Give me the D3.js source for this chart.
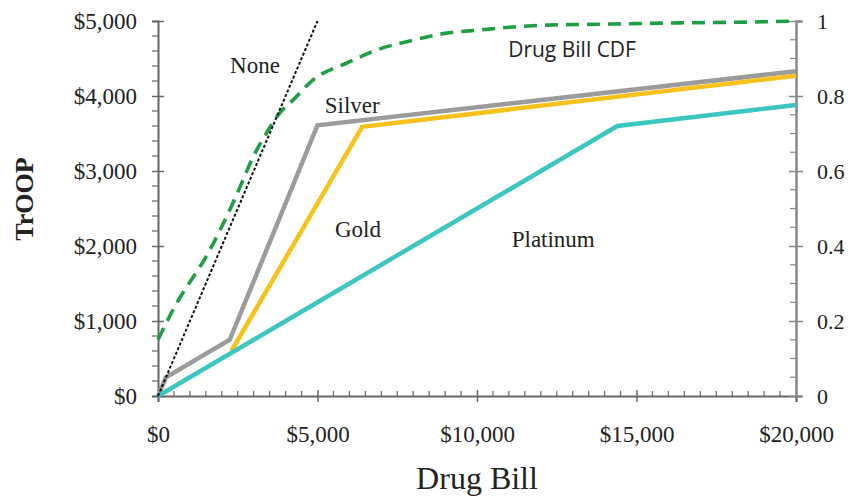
<!DOCTYPE html>
<html><head><meta charset="utf-8">
<script src="https://cdn.jsdelivr.net/npm/d3@7"></script>
<style>body{margin:0;background:#fff}svg{display:block}</style>
</head><body>
<svg id="chart" width="850" height="502"></svg>
<script>
// ---- data ----
const noneX = [0, 5000];
const noneY = [0, 5000];
const silverX = [0, 250, 2250, 5000, 20000];
const silverY = [0, 250, 750, 3610, 4330];
const goldX = [2300, 6400, 20000];
const goldY = [600, 3590, 4270];
const platinumX = [0, 14400, 20000];
const platinumY = [0, 3600, 3880];
const cdfX = [0, 470, 1630, 2350, 2570, 2980, 3420, 3820, 4230, 4860, 5920, 6870, 8000, 9060, 10100, 11130, 12200, 14260, 16360, 18460, 20000];
const cdfY = [0.15, 0.23, 0.39, 0.515, 0.557, 0.637, 0.704, 0.755, 0.789, 0.843, 0.888, 0.923, 0.949, 0.968, 0.976, 0.984, 0.989, 0.992, 0.995, 0.997, 1.0];
const xTicks = [0, 5000, 10000, 15000, 20000];
const yTicks = [0, 1000, 2000, 3000, 4000, 5000];
const rTicks = [0, 0.2, 0.4, 0.6, 0.8, 1];
const labels = [
  {text: "None", x: 3040, y: 4310, font: "serif"},
  {text: "Silver", x: 6090, y: 3770, font: "serif"},
  {text: "Gold", x: 6270, y: 2120, font: "serif"},
  {text: "Platinum", x: 12390, y: 1990, font: "serif"},
  {text: "Drug Bill CDF", x: 12980, y: 4520, font: "sans"}
];

const svg = d3.select("#chart");
const x = d3.scaleLinear().domain([0, 20000]).range([158, 796]);
const y = d3.scaleLinear().domain([0, 5000]).range([396, 21]);
const yr = d3.scaleLinear().domain([0, 1]).range([396, 21]);
const serif = "'Liberation Serif', 'Times New Roman', serif";
const sans = "'Open Sans', 'Lato', sans-serif";
const fmt = d => "$" + d3.format(",")(d);

const axisCol = "#666";
const g = svg.append("g");
// x axis minor ticks (up)
g.selectAll(".xm").data(d3.range(0, 20001, 500).filter(v => v % 5000 !== 0)).join("line")
  .attr("x1", d => x(d)).attr("x2", d => x(d)).attr("y1", 396).attr("y2", 391)
  .attr("stroke", axisCol).attr("stroke-width", 1.2);
// y minor ticks (left)
g.selectAll(".ym").data(d3.range(0, 5001, 200).filter(v => v % 1000 !== 0)).join("line")
  .attr("x1", 152).attr("x2", 158).attr("y1", d => y(d)).attr("y2", d => y(d))
  .attr("stroke", axisCol).attr("stroke-width", 1.2);
// right minor ticks (left)
g.selectAll(".rm").data(d3.range(0, 21, 1).map(v => v / 20).filter((v, i) => i % 4 !== 0)).join("line")
  .attr("x1", 790).attr("x2", 796).attr("y1", d => yr(d)).attr("y2", d => yr(d))
  .attr("stroke", "#888").attr("stroke-width", 1.2);

const xAxis = svg.append("g").attr("transform", "translate(0,396)")
  .call(d3.axisBottom(x).tickValues(xTicks).tickFormat(fmt).tickSize(6).tickPadding(24));
const yAxis = svg.append("g").attr("transform", "translate(158,0)")
  .call(d3.axisLeft(y).tickValues(yTicks).tickFormat(fmt).tickSize(6).tickPadding(15));
const rAxis = svg.append("g").attr("transform", "translate(796,0)")
  .call(d3.axisRight(yr).tickValues(rTicks).tickFormat(d => d === 0 || d === 1 ? d : d.toFixed(1)).tickSize(6).tickPadding(15));

[xAxis, yAxis].forEach(a => {
  a.select(".domain").attr("stroke", axisCol).attr("stroke-width", 2);
  a.selectAll(".tick line").attr("stroke", axisCol).attr("stroke-width", 1.5);
  a.selectAll("text").attr("font-family", serif).attr("font-size", 23).attr("fill", "#222");
});
rAxis.select(".domain").attr("stroke", "#888").attr("stroke-width", 2.5);
rAxis.selectAll(".tick line").attr("stroke", "#888").attr("stroke-width", 1.5);
rAxis.selectAll("text").attr("font-family", serif).attr("font-size", 22).attr("fill", "#222");
xAxis.selectAll(".tick line").attr("y1", -6).attr("y2", 6);
yAxis.selectAll(".tick line").attr("x1", 6).attr("x2", -6);
rAxis.selectAll(".tick line").attr("x1", -7).attr("x2", 7);

const line = d3.line().x(d => x(d[0])).y(d => y(d[1]));
const zip = (a, b) => a.map((v, i) => [v, b[i]]);

svg.append("path").datum(zip(cdfX, cdfY)).attr("fill", "none")
  .attr("stroke", "#1f9e45").attr("stroke-width", 3.6).attr("stroke-dasharray", "13,8")
  .attr("d", d3.line().curve(d3.curveMonotoneX).x(d => x(d[0])).y(d => yr(d[1])));
svg.append("path").datum(zip(silverX, silverY)).attr("fill", "none")
  .attr("stroke", "#9b9b9b").attr("stroke-width", 4.5).attr("d", line);
svg.append("path").datum(zip(goldX, goldY)).attr("fill", "none")
  .attr("stroke", "#f7c21b").attr("stroke-width", 4.5).attr("d", line);
svg.append("path").datum(zip(platinumX, platinumY)).attr("fill", "none")
  .attr("stroke", "#3cc6c0").attr("stroke-width", 4.5).attr("d", line);
svg.append("path").datum(zip(noneX, noneY)).attr("fill", "none")
  .attr("stroke", "#111").attr("stroke-width", 2).attr("stroke-dasharray", "3,2").attr("d", line);

svg.selectAll(".lbl").data(labels).join("text")
  .attr("x", d => x(d.x)).attr("y", d => y(d.y)).attr("text-anchor", "middle")
  .attr("font-family", d => d.font === "sans" ? sans : serif)
  .attr("font-size", d => d.font === "sans" ? 21 : 23).attr("fill", "#222")
  .text(d => d.text);

svg.append("text").attr("transform", "translate(33,199) rotate(-90)").attr("text-anchor", "middle")
  .attr("font-family", serif).attr("font-weight", "bold").attr("font-size", 26).attr("fill", "#222").text("TrOOP");
svg.append("text").attr("x", 477).attr("y", 489).attr("text-anchor", "middle")
  .attr("font-family", serif).attr("font-size", 32).attr("fill", "#222").text("Drug Bill");
</script>
</body></html>
